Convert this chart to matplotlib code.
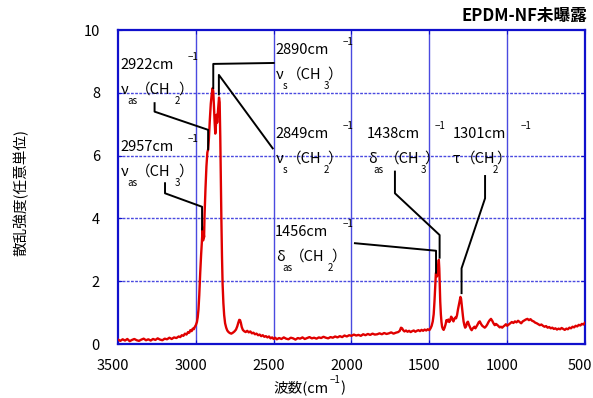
import matplotlib
matplotlib.use("Agg")
import matplotlib.pyplot as plt
from matplotlib.transforms import ScaledTranslation

plt.rcParams['font.family'] = ['Noto Sans CJK JP', 'DejaVu Sans']

# ---------------- data: (wavenumber, intensity) ----------------
baseline_high = [
    (3500, 0.14), (3485, 0.10), (3470, 0.15), (3455, 0.11), (3440, 0.16), (3425, 0.09),
    (3410, 0.13), (3395, 0.16), (3380, 0.12), (3365, 0.10), (3350, 0.14), (3335, 0.17),
    (3320, 0.12), (3305, 0.15), (3290, 0.11), (3275, 0.16), (3260, 0.13), (3245, 0.18),
    (3230, 0.14), (3215, 0.12), (3200, 0.17), (3185, 0.15), (3170, 0.20), (3155, 0.16),
    (3140, 0.21), (3125, 0.19), (3110, 0.24), (3100, 0.22), (3090, 0.28), (3080, 0.26),
    (3070, 0.33), (3060, 0.30), (3050, 0.38), (3042, 0.36), (3035, 0.44), (3027, 0.41),
    (3020, 0.49), (3013, 0.47), (3006, 0.55),
]
ch_stretch = [
    (3000, 0.60), (2993, 0.70), (2988, 0.85), (2983, 1.10), (2978, 1.55), (2972, 2.25),
    (2966, 2.85), (2960, 3.35), (2956, 3.70), (2953, 3.30), (2950, 3.55), (2947, 3.40),
    (2944, 4.10), (2938, 4.95), (2932, 5.65), (2926, 6.10), (2921, 6.20), (2916, 6.55),
    (2910, 7.15), (2904, 7.65), (2898, 7.95), (2892, 8.15), (2888, 8.05), (2884, 7.60),
    (2879, 7.05), (2875, 6.70), (2871, 6.95), (2867, 7.30), (2863, 7.05), (2859, 7.35),
    (2855, 7.60), (2851, 7.85), (2847, 7.70), (2843, 6.60), (2840, 5.40), (2836, 4.00),
    (2832, 2.80), (2828, 1.90), (2823, 1.30), (2818, 0.92), (2812, 0.66), (2805, 0.52),
    (2798, 0.43), (2790, 0.38), (2782, 0.35), (2772, 0.33), (2762, 0.36), (2752, 0.40),
    (2742, 0.46), (2734, 0.56), (2727, 0.68), (2721, 0.77), (2716, 0.76), (2711, 0.68),
    (2705, 0.54), (2698, 0.45), (2690, 0.41),
]
baseline_mid = [
    (2680, 0.38), (2670, 0.42), (2660, 0.37), (2650, 0.40), (2640, 0.34), (2630, 0.36),
    (2620, 0.31), (2610, 0.33), (2600, 0.28), (2590, 0.30), (2580, 0.25), (2570, 0.28),
    (2560, 0.23), (2550, 0.25), (2540, 0.21), (2530, 0.24), (2520, 0.18), (2510, 0.21),
    (2500, 0.16), (2490, 0.20), (2480, 0.15), (2465, 0.19), (2450, 0.16), (2435, 0.21),
    (2420, 0.17), (2405, 0.15), (2390, 0.20), (2375, 0.18), (2360, 0.14), (2345, 0.19),
    (2330, 0.17), (2315, 0.21), (2300, 0.16), (2285, 0.19), (2270, 0.22), (2255, 0.18),
    (2240, 0.20), (2225, 0.17), (2210, 0.21), (2195, 0.19), (2180, 0.23), (2165, 0.20),
    (2150, 0.18), (2135, 0.22), (2120, 0.20), (2105, 0.24), (2090, 0.21), (2075, 0.25),
    (2060, 0.22), (2045, 0.27), (2030, 0.24), (2015, 0.28), (2000, 0.26), (1985, 0.30),
    (1970, 0.27), (1955, 0.29), (1940, 0.26), (1925, 0.31), (1910, 0.28), (1895, 0.32),
    (1880, 0.29), (1865, 0.33), (1850, 0.30), (1835, 0.31), (1820, 0.34), (1805, 0.31),
    (1790, 0.35), (1775, 0.32), (1760, 0.34), (1745, 0.37), (1730, 0.33), (1715, 0.36),
    (1700, 0.38), (1690, 0.42), (1682, 0.52), (1675, 0.50), (1668, 0.44), (1660, 0.40),
    (1650, 0.43), (1640, 0.39), (1630, 0.42), (1620, 0.38), (1610, 0.41), (1600, 0.43),
    (1590, 0.39), (1580, 0.42), (1570, 0.44), (1560, 0.41), (1550, 0.45), (1540, 0.42),
    (1530, 0.46), (1520, 0.43), (1510, 0.47), (1500, 0.44),
]
fingerprint = [
    (1492, 0.50), (1485, 0.58), (1478, 0.72), (1472, 0.95), (1467, 1.35), (1462, 1.85),
    (1458, 2.25), (1455, 2.30), (1451, 2.15), (1447, 2.25), (1443, 2.50), (1439, 2.68),
    (1436, 2.40), (1433, 1.90), (1430, 1.35), (1426, 0.95), (1422, 0.70), (1418, 0.55),
    (1413, 0.48), (1408, 0.45), (1402, 0.52), (1396, 0.62), (1390, 0.76), (1384, 0.72),
    (1378, 0.78), (1372, 0.70), (1366, 0.76), (1360, 0.87), (1355, 0.84), (1350, 0.76),
    (1345, 0.72), (1340, 0.79), (1334, 0.84), (1328, 0.82), (1322, 0.92), (1316, 1.10),
    (1310, 1.25), (1305, 1.38), (1300, 1.50), (1296, 1.44), (1292, 1.25), (1288, 1.05),
    (1284, 0.88), (1280, 0.72), (1275, 0.60), (1270, 0.52), (1264, 0.56), (1258, 0.68),
    (1252, 0.71), (1246, 0.62), (1240, 0.55), (1234, 0.48), (1228, 0.44), (1222, 0.49),
    (1216, 0.52), (1210, 0.55), (1204, 0.50), (1197, 0.56), (1190, 0.62), (1183, 0.69),
    (1176, 0.72), (1168, 0.64), (1160, 0.58), (1152, 0.55), (1144, 0.52), (1136, 0.56),
    (1128, 0.62), (1120, 0.70), (1112, 0.76), (1104, 0.80), (1096, 0.74), (1088, 0.66),
    (1080, 0.60), (1072, 0.64), (1064, 0.61), (1056, 0.57), (1048, 0.53), (1040, 0.55),
    (1032, 0.52), (1024, 0.56), (1016, 0.59), (1008, 0.63), (1000, 0.58),
]
low_end = [
    (990, 0.62), (980, 0.66), (970, 0.70), (960, 0.67), (950, 0.72), (940, 0.69),
    (930, 0.74), (920, 0.70), (910, 0.66), (900, 0.72), (890, 0.75), (880, 0.78),
    (870, 0.80), (860, 0.76), (850, 0.79), (840, 0.74), (830, 0.72), (820, 0.68),
    (810, 0.66), (800, 0.63), (790, 0.60), (780, 0.62), (770, 0.58), (760, 0.55),
    (750, 0.57), (740, 0.52), (730, 0.54), (720, 0.50), (710, 0.52), (700, 0.48),
    (690, 0.50), (680, 0.46), (670, 0.49), (660, 0.47), (650, 0.51), (640, 0.48),
    (630, 0.45), (620, 0.49), (610, 0.47), (600, 0.52), (590, 0.50), (580, 0.55),
    (570, 0.53), (560, 0.58), (550, 0.56), (540, 0.61), (530, 0.59), (520, 0.64),
    (510, 0.62), (500, 0.68),
]

x_ticks = [3500, 3000, 2500, 2000, 1500, 1000, 500]
y_ticks = [0, 2, 4, 6, 8, 10]

# leader lines (data coordinates) for each annotated band
leader_2922 = ([3265, 3265, 2921, 2921], [7.67, 7.40, 6.82, 6.20])
leader_2890 = ([2500, 2888, 2888], [8.95, 8.92, 8.15])
leader_2849 = ([2506, 2852, 2852], [6.23, 8.57, 7.95])
leader_2957 = ([3198, 3198, 2960, 2960], [5.12, 4.80, 4.37, 3.65])
leader_1456 = ([1978, 1457, 1457], [3.21, 2.97, 2.27])
leader_1438 = ([1721, 1721, 1434, 1434], [5.49, 4.80, 3.47, 2.75])
leader_1301 = ([1142, 1142, 1293, 1293], [5.35, 4.64, 2.41, 1.62])

spectrum = baseline_high + ch_stretch + baseline_mid + fingerprint + low_end
wavenumber = [p[0] for p in spectrum]
intensity = [p[1] for p in spectrum]

# ---------------- figure ----------------
W, H = 593, 398
fig = plt.figure(figsize=(W / 100, H / 100), dpi=100)
ax = fig.add_axes([118 / W, 1 - 344 / H, (585 - 118) / W, (344 - 30) / H])

frame_blue = '#1010cc'
grid_blue = '#4a4ae0'

ax.plot(wavenumber, intensity, color='#e00000', lw=1.7, zorder=3)

for xs, ys in [leader_2922, leader_2890, leader_2849, leader_2957,
               leader_1456, leader_1438, leader_1301]:
    ax.plot(xs, ys, color='black', lw=1.4, zorder=4)

ax.set_xlim(3500, 500)
ax.set_ylim(0, 10)
ax.set_xticks(x_ticks)
ax.set_yticks(y_ticks)
ax.set_xticklabels([str(v) for v in x_ticks])
ax.set_yticklabels([str(v) for v in y_ticks])

for v in x_ticks[1:-1]:
    ax.axvline(v, color=grid_blue, lw=1.0, zorder=1)
for v in y_ticks[1:-1]:
    ax.axhline(v, color=grid_blue, lw=1.0, ls=(0, (2, 1)), zorder=1)

for s in ax.spines.values():
    s.set_color(frame_blue)
    s.set_linewidth(1.6)

ax.tick_params(axis='both', direction='in', length=3, color=frame_blue,
               labelsize=10.5, top=True, right=True)
ax.tick_params(axis='x', pad=11)
ax.tick_params(axis='y', pad=13)
shift = ScaledTranslation(-5 / 100, 0, fig.dpi_scale_trans)
for lab in ax.get_xticklabels():
    lab.set_transform(lab.get_transform() + shift)


def ptext(px, py, s, size=10.5, **kw):
    kw.setdefault('ha', 'left')
    kw.setdefault('va', 'center')
    fig.text(px / W, 1 - py / H, s, fontsize=size, color='black', **kw)


def band(px, py, number, greek, sub, group, groupsub, gx, sx, g2x, close_x):
    ptext(px, py, number + 'cm')
    ptext(px + 68, py - 8, '\u22121', size=7)
    ptext(px + 1, py + 25, greek)
    ptext(sx, py + 36, sub, size=7)
    ptext(gx, py + 25, '\uff08' + group)
    ptext(g2x, py + 36, groupsub, size=7)
    ptext(close_x, py + 25, '\uff09')


band(120, 65, '2922', '\u03bd', 'as', 'CH', '2', 136, 127, 175, 178)
band(120, 147, '2957', '\u03bd', 'as', 'CH', '3', 136, 127, 175, 178)
band(275, 50, '2890', '\u03bd', 's', 'CH', '3', 287, 283, 324, 327)
band(275, 134, '2849', '\u03bd', 's', 'CH', '2', 287, 283, 324, 327)
band(275, 232, '1456', '\u03b4', 'as', 'CH', '2', 290, 282, 328, 331)
band(367, 134, '1438', '\u03b4', 'as', 'CH', '3', 385, 373, 421, 424)
ptext(453, 134, '1301cm')
ptext(521, 126, '\u22121', size=7)
ptext(453, 159, '\u03c4')
ptext(461, 159, '\uff08CH')
ptext(493, 170, '2', size=7)
ptext(496, 159, '\uff09')

fig.text(587 / W, 1 - 16 / H, 'EPDM-NF未曝露', fontsize=12, fontweight='bold',
         ha='right', va='center')

fig.text(21 / W, 1 - 192 / H, '散乱強度(任意単位)', fontsize=10.5,
         rotation=90, ha='center', va='center')
ptext(273, 388, '波数(cm')
ptext(330, 380, '\u22121', size=7)
ptext(340, 388, ')')

fig.savefig('out.png', dpi=100)
